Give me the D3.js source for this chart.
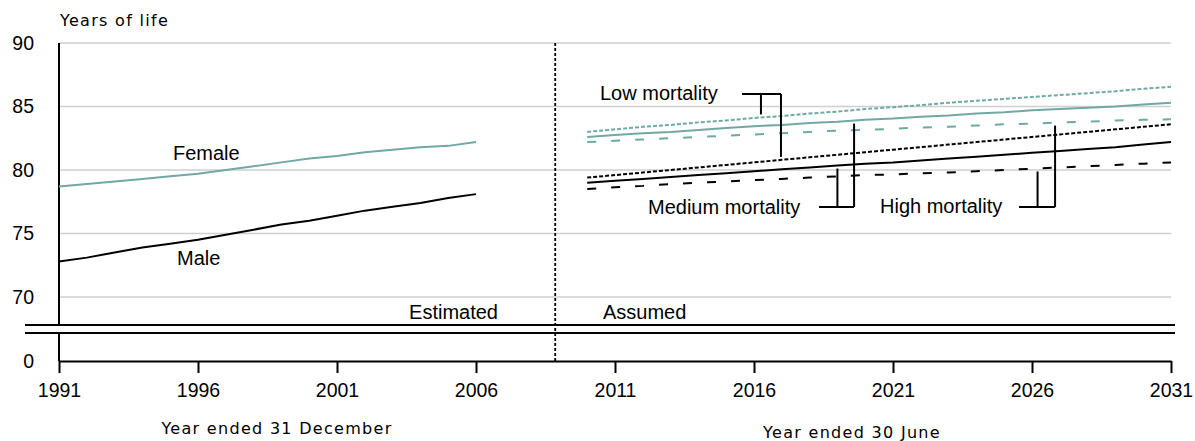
<!DOCTYPE html>
<html>
<head>
<meta charset="utf-8">
<script src="https://cdn.jsdelivr.net/npm/d3@7"></script>
<style>
  body { margin: 0; background: #fff; }
  .tick text { font-family: "Liberation Sans", Arial, sans-serif; font-size: 19.5px; fill: #000; }
  .lbl { font-family: "Liberation Sans", Arial, sans-serif; font-size: 20px; fill: #000; }
  .title { font-family: "DejaVu Sans", Verdana, sans-serif; font-size: 16px; letter-spacing: 1.3px; fill: #000; }
</style>
</head>
<body>
<div id="chart"></div>
<script>
var svgWidth = 1195;
var svgHeight = 441;

// estimated period, year ended 31 December
var estYears = [1991, 1992, 1993, 1994, 1995, 1996, 1997, 1998, 1999, 2000, 2001, 2002, 2003, 2004, 2005, 2006];
var femaleEst = [78.7, 78.9, 79.1, 79.3, 79.5, 79.7, 80.0, 80.3, 80.6, 80.9, 81.1, 81.4, 81.6, 81.8, 81.9, 82.2];
var maleEst = [72.8, 73.1, 73.5, 73.9, 74.2, 74.5, 74.9, 75.3, 75.7, 76.0, 76.4, 76.8, 77.1, 77.4, 77.8, 78.1];

// assumed period, year ended 30 June
var projYears = [2010, 2011, 2012, 2013, 2014, 2015, 2016, 2017, 2018, 2019, 2020,
                 2021, 2022, 2023, 2024, 2025, 2026, 2027, 2028, 2029, 2030, 2031];
var femaleLow = [83.0, 83.2, 83.4, 83.55, 83.75, 83.9, 84.1, 84.25, 84.45, 84.6, 84.8,
                 84.95, 85.1, 85.3, 85.45, 85.6, 85.75, 85.9, 86.05, 86.2, 86.4, 86.55];
var femaleMed = [82.6, 82.75, 82.9, 83.0, 83.15, 83.3, 83.45, 83.55, 83.7, 83.8, 83.95,
                 84.05, 84.2, 84.3, 84.45, 84.55, 84.7, 84.8, 84.9, 85.0, 85.15, 85.3];
var femaleHigh = [82.2, 82.3, 82.4, 82.5, 82.6, 82.7, 82.8, 82.9, 83.0, 83.1, 83.15,
                  83.25, 83.35, 83.4, 83.5, 83.6, 83.65, 83.75, 83.8, 83.9, 83.95, 84.0];
var maleLow = [79.4, 79.6, 79.8, 80.0, 80.2, 80.4, 80.6, 80.8, 81.0, 81.2, 81.4,
               81.6, 81.8, 82.0, 82.2, 82.4, 82.6, 82.8, 83.0, 83.2, 83.4, 83.6];
var maleMed = [79.0, 79.15, 79.3, 79.45, 79.6, 79.75, 79.9, 80.05, 80.2, 80.35, 80.5,
               80.6, 80.75, 80.9, 81.05, 81.2, 81.35, 81.5, 81.65, 81.8, 82.0, 82.2];
var maleHigh = [78.5, 78.65, 78.75, 78.9, 79.0, 79.1, 79.2, 79.3, 79.4, 79.5, 79.6,
                79.65, 79.75, 79.8, 79.9, 80.0, 80.1, 80.2, 80.3, 80.4, 80.5, 80.6];

var xTicks = [1991, 1996, 2001, 2006, 2011, 2016, 2021, 2026, 2031];
var yTicks = [0, 70, 75, 80, 85, 90];
var gridTicks = [70, 75, 80, 85, 90];

var teal = "#70a9a4";

var svg = d3.select("#chart")
  .append("svg")
  .attr("width", svgWidth)
  .attr("height", svgHeight);

var x = d3.scaleLinear().domain([1991, 2031]).range([59, 1171]);
// broken axis: 0 sits below the break, 70-90 above it
var y = d3.scaleLinear().domain([0, 70, 90]).range([361, 297, 43]);
var breakTop = 325, breakBottom = 333;

// gridlines
svg.append("g").selectAll("line")
  .data(gridTicks)
  .enter()
  .append("line")
  .attr("x1", x(1991)).attr("x2", x(2031))
  .attr("y1", d => y(d)).attr("y2", d => y(d))
  .attr("stroke", "#cfcfcf")
  .attr("stroke-width", 1.5);

// axes
var xAxis = svg.append("g")
  .attr("transform", `translate(0, ${y(0)})`)
  .call(d3.axisBottom(x).tickValues(xTicks).tickSize(12).tickSizeOuter(0).tickPadding(10).tickFormat(d3.format("d")));
xAxis.select(".domain").attr("stroke", "#000").attr("stroke-width", 2);
xAxis.selectAll(".tick line").attr("stroke", "#000").attr("stroke-width", 2);

var yAxis = svg.append("g")
  .attr("transform", `translate(${x(1991)}, 0)`)
  .call(d3.axisLeft(y).tickValues(yTicks).tickSize(0).tickPadding(25));
yAxis.select(".domain").remove();

// y axis line in two pieces with the break
svg.append("line")
  .attr("x1", x(1991)).attr("x2", x(1991))
  .attr("y1", y(90)).attr("y2", breakTop)
  .attr("stroke", "#000").attr("stroke-width", 2);
svg.append("line")
  .attr("x1", x(1991)).attr("x2", x(1991))
  .attr("y1", breakBottom).attr("y2", y(0))
  .attr("stroke", "#000").attr("stroke-width", 2);

// break lines
[breakTop, breakBottom].forEach(function(b) {
  svg.append("line")
    .attr("x1", 25).attr("x2", 1175)
    .attr("y1", b).attr("y2", b)
    .attr("stroke", "#000").attr("stroke-width", 2);
});

// divider between estimated and assumed
svg.append("line")
  .attr("x1", x(2008.85)).attr("x2", x(2008.85))
  .attr("y1", y(90)).attr("y2", y(0))
  .attr("stroke", "#000").attr("stroke-width", 1.8)
  .attr("stroke-dasharray", "3,2");

var line = d3.line()
  .x(d => x(d[0]))
  .y(d => y(d[1]));

function addSeries(years, values, color, dash) {
  svg.append("path")
    .datum(years.map((yr, i) => [yr, values[i]]))
    .attr("d", line)
    .attr("fill", "none")
    .attr("stroke", color)
    .attr("stroke-width", 2)
    .attr("stroke-dasharray", dash);
}

addSeries(estYears, femaleEst, teal, null);
addSeries(estYears, maleEst, "#000", null);
addSeries(projYears, femaleLow, teal, "4,2");
addSeries(projYears, femaleMed, teal, null);
addSeries(projYears, femaleHigh, teal, "9,15");
addSeries(projYears, maleLow, "#000", "4,2");
addSeries(projYears, maleMed, "#000", null);
addSeries(projYears, maleHigh, "#000", "9,15");

// value of a projected series at a fractional year
function valueAt(values, yr) {
  var i = Math.min(Math.floor(yr - projYears[0]), projYears.length - 2);
  var t = yr - projYears[i];
  return values[i] + (values[i + 1] - values[i]) * t;
}

// callouts: bar at barY, legs go from bar to the series
function callout(barY, barStart, legs) {
  var g = svg.append("g").attr("stroke", "#000").attr("stroke-width", 2);
  var xs = legs.map(l => x(l.yr));
  g.append("line")
    .attr("x1", barStart).attr("x2", d3.max(xs))
    .attr("y1", barY).attr("y2", barY);
  legs.forEach(function(l) {
    var ty = y(valueAt(l.series, l.yr));
    var end = ty < barY ? ty + 3 : ty - 3;
    g.append("line")
      .attr("x1", x(l.yr)).attr("x2", x(l.yr))
      .attr("y1", barY).attr("y2", end);
  });
}

callout(94, 742, [{yr: 2016.25, series: femaleLow}, {yr: 2016.97, series: maleLow}]);
callout(207, 819, [{yr: 2019.0, series: maleMed}, {yr: 2019.6, series: femaleMed}]);
callout(207, 1019, [{yr: 2026.2, series: maleHigh}, {yr: 2026.83, series: femaleHigh}]);

// labels
function label(txt, lx, ly, anchor) {
  svg.append("text")
    .attr("class", "lbl")
    .attr("x", lx).attr("y", ly)
    .attr("dy", "0.35em")
    .attr("text-anchor", anchor || "start")
    .text(txt);
}
label("Female", 173, 153);
label("Male", 177, 258);
label("Estimated", 498, 312, "end");
label("Assumed", 603, 312);
label("Low mortality", 600, 93);
label("Medium mortality", 648, 207);
label("High mortality", 880, 206);

svg.append("text").attr("class", "title")
  .attr("x", 60).attr("y", 20).attr("dy", "0.35em")
  .text("Years of life");
svg.append("text").attr("class", "title")
  .attr("x", 277).attr("y", 428).attr("dy", "0.35em")
  .attr("text-anchor", "middle")
  .text("Year ended 31 December");
svg.append("text").attr("class", "title")
  .attr("x", 852).attr("y", 432).attr("dy", "0.35em")
  .attr("text-anchor", "middle")
  .text("Year ended 30 June");
</script>
</body>
</html>
